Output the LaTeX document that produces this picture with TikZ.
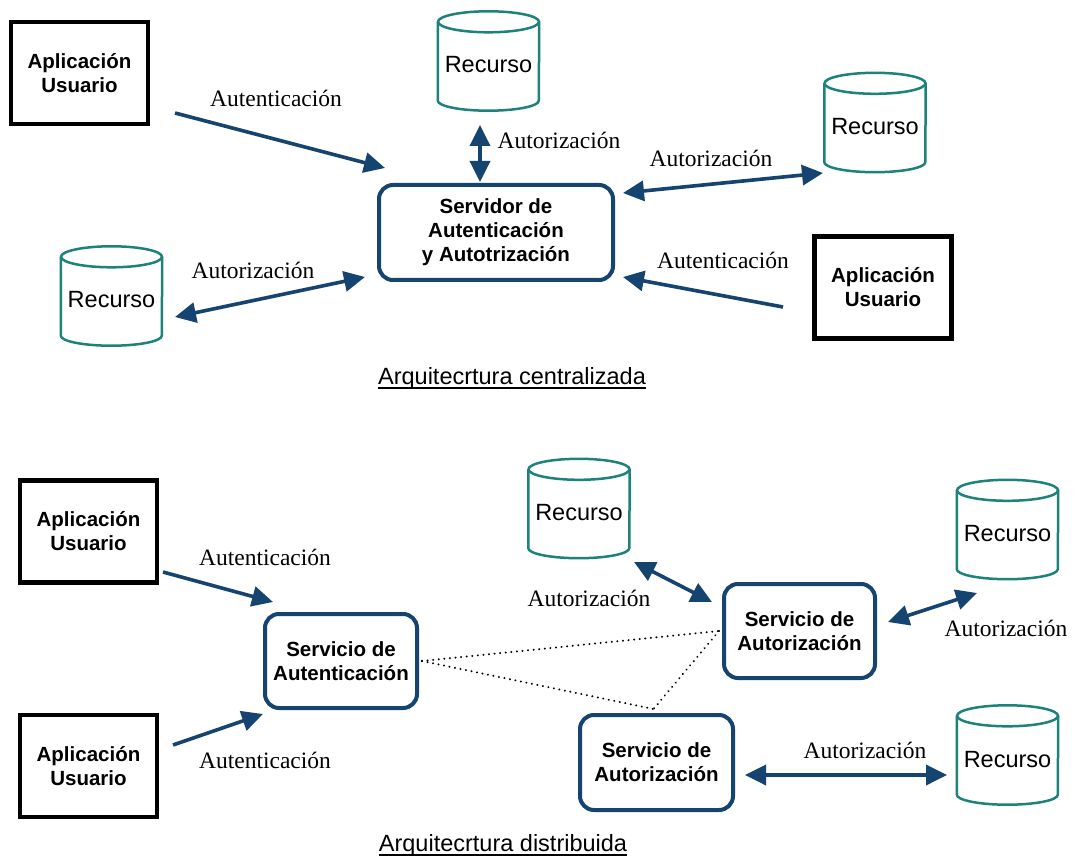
\documentclass[tikz,border=0pt]{standalone}
\usepackage{fontspec}
\setmainfont{Liberation Serif}
\setsansfont{Liberation Sans}
\usetikzlibrary{arrows.meta,calc}
\definecolor{navy}{RGB}{22,68,112}
\definecolor{tealc}{RGB}{28,130,122}

\tikzset{
  appbox/.style={draw=black, line width=4.8pt, minimum width=137pt, minimum height=102pt,
    inner sep=0pt, align=center, font=\sffamily\bfseries\fontsize{20.5}{24}\selectfont},
  svcbox/.style={draw=navy, line width=4pt, rounded corners=14pt, inner sep=0pt,
    align=center, font=\sffamily\bfseries\fontsize{20.5}{24}\selectfont},
  cylnode/.style={minimum width=101pt, minimum height=99pt, inner sep=0pt,
    text height=24pt, text depth=0pt, font=\sffamily\fontsize{23.5}{28}\selectfont},
  cylline/.style={draw=tealc, line width=2.5pt},
  lbl/.style={inner sep=0pt, font=\fontsize{23.5}{28}\selectfont},
  uni/.style={draw=navy, line width=3.6pt, -{Triangle[length=21pt,width=20pt]}},
  bi/.style={draw=navy, line width=3.6pt,
    {Triangle[length=21pt,width=20pt]}-{Triangle[length=21pt,width=20pt]}},
  dotline/.style={draw=black, line width=2.2pt, line cap=round,
    dash pattern=on 0.01pt off 5.6pt},
  caption/.style={inner sep=0pt, font=\sffamily\fontsize{23.5}{28}\selectfont},
  capline/.style={draw=black, line width=1.8pt},
}

% outline of a storage cylinder around a named node
\newcommand\cylout[1]{%
  \draw[cylline] ([yshift=-10.5pt]#1.north west) -- ([yshift=10pt]#1.south west)
    arc[start angle=180, end angle=360, x radius=50.5pt, y radius=10pt]
    -- ([yshift=-10.5pt]#1.north east);
  \draw[cylline] ([yshift=-10.5pt]#1.north) ellipse[x radius=50.5pt, y radius=10.5pt];
}

\begin{document}
\begin{tikzpicture}[x=1pt, y=-1pt]
\useasboundingbox[fill=white] (0,0) rectangle (1073,858);

% ---------- centralised architecture ----------
\node[appbox] (app1) at (79.5,73) {Aplicación\\Usuario};
\node[appbox] (app2) at (883,287.5) {Aplicación\\Usuario};
\node[svcbox, minimum width=234pt, minimum height=95pt] (srv) at (496,232.5)
  {Servidor de\\Autenticación\\y Autotrización};
\node[cylnode] (rtop) at (488.5,61) {Recurso};
\node[cylnode] (rright) at (875,122.5) {Recurso};
\node[cylnode] (rleft) at (111.5,296) {Recurso};
\cylout{rtop}
\cylout{rright}
\cylout{rleft}

\draw[uni] ($(app1)+(95.5,40)$) -- ($(srv)+(-111,-64.5)$);
\draw[bi] ($(rtop)+(-8.5,64)$) -- ($(srv)+(-16,-50.5)$);
\draw[bi] ($(srv)+(127,-39.5)$) -- ($(rright)+(-52,50.5)$);
\draw[uni] ($(app2)+(-100,19.5)$) -- ($(srv)+(127,44.5)$);
\draw[bi] ($(srv)+(-131,44.5)$) -- ($(rleft)+(63.5,21)$);

\node[lbl] (l1) at (276,98) {Autenticación};
\node[lbl] (l2) at (559,140) {Autorización};
\node[lbl] (l3) at (711,158) {Autorización};
\node[lbl] (l4) at (723,260) {Autenticación};
\node[lbl] (l5) at (253,270) {Autorización};

\node[caption] (cap1) at (512,378) {Arquitecrtura centralizada};
\draw[capline] ([yshift=-4pt]cap1.base west) -- ([yshift=-4pt]cap1.base east);

% ---------- distributed architecture ----------
\node[appbox] (app3) at (88.5,531.5) {Aplicación\\Usuario};
\node[appbox] (app4) at (88.5,766) {Aplicación\\Usuario};
\node[svcbox, minimum width=152pt, minimum height=94pt] (auth) at (341,661)
  {Servicio de\\Autenticación};
\node[svcbox, minimum width=151pt, minimum height=94pt] (az1) at (799.5,631)
  {Servicio de\\Autorización};
\node[svcbox, minimum width=153pt, minimum height=95pt] (az2) at (656.5,762.5)
  {Servicio de\\Autorización};
\node[cylnode] (rA) at (579,508.5) {Recurso};
\node[cylnode] (rB) at (1007.5,529.5) {Recurso};
\node[cylnode] (rC) at (1007.5,755) {Recurso};
\cylout{rA}
\cylout{rB}
\cylout{rC}

\draw[uni] ($(app3)+(74.5,40.5)$) -- ($(auth)+(-68,-59)$);
\draw[uni] ($(app4)+(84.5,-21)$) -- ($(auth)+(-78,53)$);
\draw[bi] ($(rA)+(55,53.5)$) -- ($(az1)+(-87.5,-29)$);
\draw[bi] ($(az1)+(88.5,-9)$) -- ($(rB)+(-30.5,63.5)$);
\draw[bi] ($(az2)+(88.5,12.5)$) -- ($(rC)+(-60.5,20)$);

\draw[dotline] ($(auth.east)+(3,0)$) -- ($(az1.west)+(-3,0)$);
\draw[dotline] ($(auth.east)+(3,0)$) -- ($(az2.north)+(-3,-4)$);
\draw[dotline] ($(az1.west)+(-3,0)$) -- ($(az2.north)+(-3,-4)$);

\node[lbl] (l6) at (265,557) {Autenticación};
\node[lbl] (l7) at (265,760) {Autenticación};
\node[lbl] (l8) at (589,598) {Autorización};
\node[lbl] (l9) at (1006,628) {Autorización};
\node[lbl] (l10) at (865,750) {Autorización};

\node[caption] (cap2) at (503,845) {Arquitecrtura distribuida};
\draw[capline] ([yshift=-4pt]cap2.base west) -- ([yshift=-4pt]cap2.base east);
\end{tikzpicture}
\end{document}
